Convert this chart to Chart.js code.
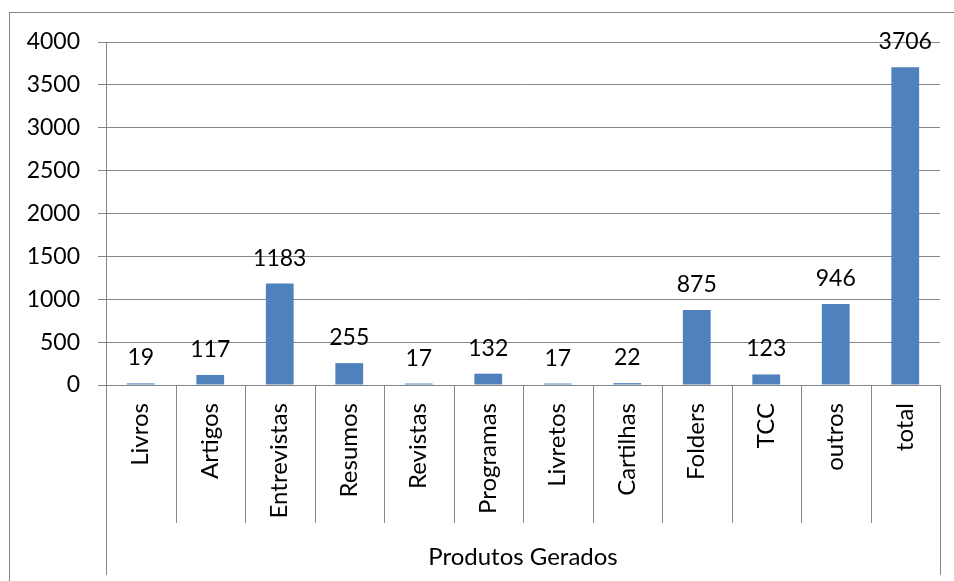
<!DOCTYPE html>
<html>
<head>
<meta charset="utf-8">
<script src="https://cdn.jsdelivr.net/npm/chart.js@4.4.1/dist/chart.umd.min.js"></script>
<style>
html,body{margin:0;padding:0;background:#fff;}
#wrap{width:954px;height:581px;position:relative;overflow:hidden;}
#frame{position:absolute;left:9px;top:12px;width:960px;height:600px;border-left:1px solid #868686;border-top:1px solid #868686;pointer-events:none;}
canvas{position:absolute;left:0;top:0;}
</style>
</head>
<body>
<div id="wrap"><canvas id="c" width="954" height="581"></canvas><div id="frame"></div></div>
<script>
const categories = ["Livros","Artigos","Entrevistas","Resumos","Revistas","Programas","Livretos","Cartilhas","Folders","TCC","outros","total"];
const values = [19,117,1183,255,17,132,17,22,875,123,946,3706];
const groupLabel = "Produtos Gerados";
const yTicks = [0,500,1000,1500,2000,2500,3000,3500,4000];

const FONT = "Lato, 'Open Sans', sans-serif";
const GRID = "#868686";

const decor = {
  id: 'decor',
  afterDraw(chart) {
    const ctx = chart.ctx;
    const x = chart.scales.x;
    const ca = chart.chartArea;
    const n = categories.length;
    const w = (ca.right - ca.left) / n;
    ctx.save();
    ctx.strokeStyle = GRID;
    ctx.lineWidth = 1;
    ctx.beginPath();
    for (let i = 0; i <= n; i++) {
      const px = Math.round(ca.left + i * w) + 0.5;
      const bottom = (i === 0 || i === n) ? 575 : 523;
      ctx.moveTo(px, ca.bottom);
      ctx.lineTo(px, bottom);
    }
    ctx.stroke();
    // category labels
    ctx.fillStyle = '#000';
    ctx.font = "24px " + FONT;
    categories.forEach((c, i) => {
      const cx = x.getPixelForValue(i);
      ctx.save();
      ctx.translate(cx, 403);
      ctx.rotate(-Math.PI/2);
      ctx.textAlign = 'right';
      ctx.textBaseline = 'middle';
      ctx.fillText(c, 0, 0);
      ctx.restore();
    });
    ctx.font = "24px " + FONT;
    ctx.textAlign = 'center';
    ctx.textBaseline = 'middle';
    ctx.fillText(groupLabel, (ca.left + ca.right)/2, 557);
    // data labels
    const meta = chart.getDatasetMeta(0);
    ctx.font = "23px " + FONT;
    ctx.textBaseline = 'alphabetic';
    meta.data.forEach((bar, i) => {
      ctx.fillText(String(values[i]), bar.x, bar.y - 18);
    });
    ctx.restore();
  }
};

new Chart(document.getElementById('c'), {
  type: 'bar',
  data: {
    labels: categories,
    datasets: [{
      data: values,
      backgroundColor: '#4F81BD',
      borderWidth: 0,
      categoryPercentage: 1,
      barPercentage: 0.4
    }]
  },
  options: {
    responsive: false,
    animation: false,
    devicePixelRatio: 1,
    layout: { padding: { left: 0, top: 42, right: 14, bottom: 0 } },
    plugins: { legend: { display: false }, tooltip: { enabled: false } },
    scales: {
      x: {
        ticks: { display: false },
        grid: { display: false },
        border: { display: false },
        afterFit(s) { s.height = 196; }
      },
      y: {
        min: 0, max: 4000,
        afterBuildTicks(s) { s.ticks = yTicks.map(v => ({ value: v })); },
        ticks: { color: '#000', font: { size: 23, family: FONT }, padding: 18, callback: v => String(v) },
        grid: { color: GRID, lineWidth: 1, tickLength: 8 },
        border: { display: true, color: GRID, width: 1 },
        afterFit(s) { s.width = 106; }
      }
    }
  },
  plugins: [decor]
});
</script>
</body>
</html>
